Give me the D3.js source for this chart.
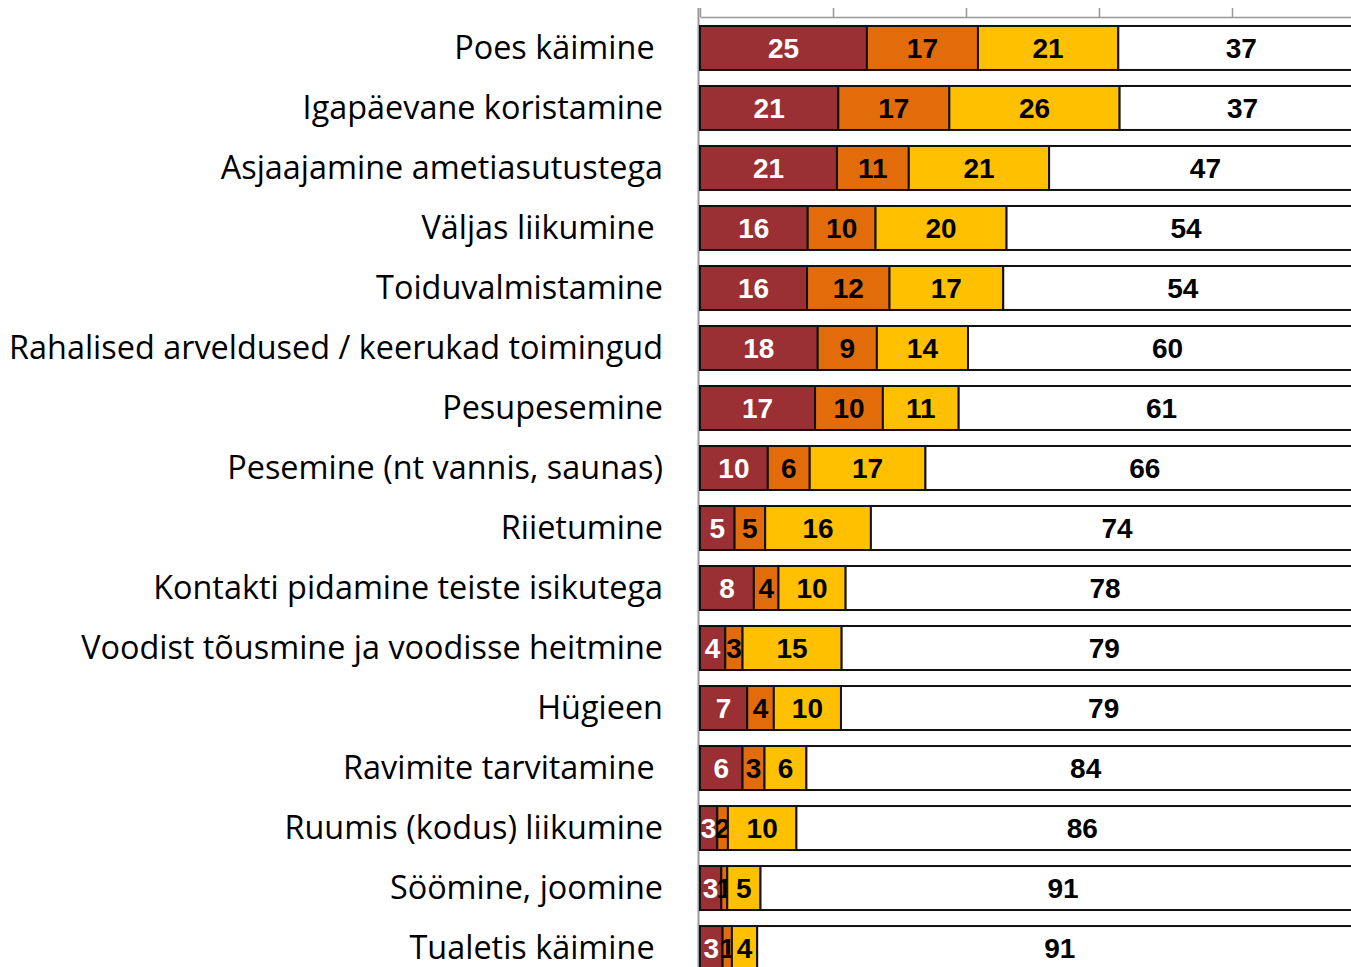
<!DOCTYPE html>
<html>
<head>
	<meta charset="utf-8">
	<title>Abivajadus tegevuste kaupa</title>
	<style>
		body {
			margin: 0;
			background: #fff;
		}
		svg {
			display: block;
		}
		.cat text {
			font-family: 'Open Sans', 'Noto Sans', sans-serif;
			font-size: 32.4px;
			fill: #000;
			white-space: pre;
		}
		.num {
			font-family: 'Liberation Sans', Arial, sans-serif;
			font-weight: bold;
			font-size: 28px;
		}
	</style>
</head>
<body>
	<svg width='1351' height='967'></svg>
<script src='https://d3js.org/d3.v7.min.js'></script>
<script>
	// categories, top to bottom (trailing spaces are in the original labels)
	let categories = [
		'Poes käimine ',
		'Igapäevane koristamine',
		'Asjaajamine ametiasutustega',
		'Väljas liikumine ',
		'Toiduvalmistamine',
		'Rahalised arveldused / keerukad toimingud',
		'Pesupesemine',
		'Pesemine (nt vannis, saunas)',
		'Riietumine',
		'Kontakti pidamine teiste isikutega',
		'Voodist tõusmine ja voodisse heitmine',
		'Hügieen',
		'Ravimite tarvitamine ',
		'Ruumis (kodus) liikumine',
		'Söömine, joomine',
		'Tualetis käimine '
	]

	// four stacked series, %
	let darkRed = [25.1, 20.8, 20.6, 16.2, 16.1, 17.7, 17.3, 10.2, 5.2, 8.1, 3.8, 7.1, 6.4, 2.6, 3.2, 3.4]
	let orange  = [16.7, 16.7, 10.8, 10.2, 12.4, 8.9, 10.2, 6.3, 4.6, 3.7, 2.6, 4.0, 3.3, 1.6, 0.9, 1.4]
	let yellow  = [21.1, 25.6, 21.1, 19.7, 17.1, 13.7, 11.4, 17.4, 15.9, 10.1, 14.9, 10.1, 6.3, 10.3, 5.0, 3.8]
	let white   = [37, 37, 47, 54, 54, 60, 61, 66, 74, 78, 79, 79, 84, 86, 91, 91]

	let xTicks = [0, 20, 40, 60, 80, 100]

	let seriesKeys = ['darkRed', 'orange', 'yellow', 'white']
	let colors = ['#9b3034', '#e36c0a', '#ffc000', '#ffffff']
	let textColors = ['#ffffff', '#000000', '#000000', '#000000']

	let rows = categories.map((c, i) => ({
		cat: c,
		darkRed: darkRed[i],
		orange: orange[i],
		yellow: yellow[i],
		white: white[i]
	}))

	let layers = d3.stack().keys(seriesKeys)(rows)

	let svg = d3.select('svg')

	let x = d3.scaleLinear()
		.domain([0, 100])
		.range([700, 1365])

	let y = d3.scaleBand()
		.domain(categories)
		.range([18, 978])
		.paddingInner(0.267)
		.paddingOuter(0.133)

	let color = d3.scaleOrdinal().domain(seriesKeys).range(colors)
	let textColor = d3.scaleOrdinal().domain(seriesKeys).range(textColors)

	// left axis line (runs up to the tick tops)
	svg.append('line')
		.attr('x1', 698.5).attr('x2', 698.5)
		.attr('y1', 8).attr('y2', 967)
		.attr('stroke', '#999')
		.attr('stroke-width', 2)

	// top axis, no labels
	svg.append('g')
		.attr('transform', 'translate(0,17)')
		.call(d3.axisTop(x).tickValues(xTicks).tickFormat('').tickSize(9).tickSizeOuter(0))
		.call(g => g.selectAll('line').attr('stroke', '#999').attr('stroke-width', 1.5))
		.call(g => g.select('.domain').attr('stroke', '#999').attr('stroke-width', 1.5))

	// category labels
	svg.append('g')
		.attr('class', 'cat')
		.attr('transform', 'translate(700,0)')
		.call(d3.axisLeft(y).tickSize(0).tickPadding(37))
		.attr('font-size', null)
		.attr('font-family', null)
		.call(g => g.select('.domain').remove())
		.call(g => g.selectAll('text').attr('dy', '0.34em'))

	// bars
	let layer = svg.append('g')
		.selectAll('g')
		.data(layers)
		.join('g')

	layer.selectAll('rect')
		.data(d => d.map(v => ({ key: d.key, v: v })))
		.join('rect')
		.attr('x', d => x(d.v[0]))
		.attr('y', d => y(d.v.data.cat))
		.attr('width', d => x(d.v[1]) - x(d.v[0]))
		.attr('height', y.bandwidth())
		.style('fill', d => color(d.key))
		.style('stroke', '#111')
		.style('stroke-width', 2)

	// value labels
	layer.selectAll('text')
		.data(d => d.map(v => ({ key: d.key, v: v })))
		.join('text')
		.attr('class', 'num')
		.attr('x', d => (x(d.v[0]) + x(d.v[1])) / 2)
		.attr('y', d => y(d.v.data.cat) + y.bandwidth() / 2)
		.attr('dy', '0.36em')
		.attr('text-anchor', 'middle')
		.style('fill', d => textColor(d.key))
		.text(d => Math.round(d.v[1] - d.v[0]))
</script>
</body>
</html>
